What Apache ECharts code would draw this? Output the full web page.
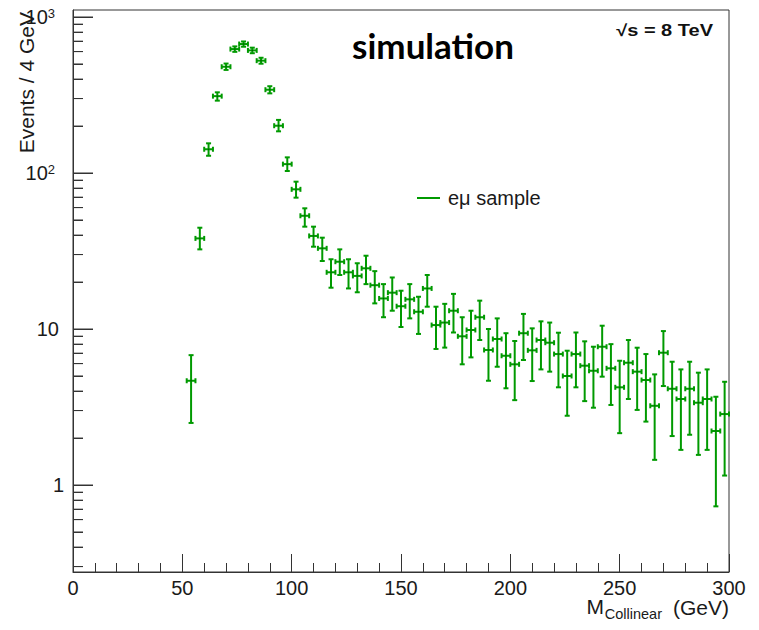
<!DOCTYPE html>
<html>
<head>
<meta charset="utf-8">
<script src="https://cdn.jsdelivr.net/npm/echarts@6/dist/echarts.min.js"></script>
<style>html,body{margin:0;padding:0;background:#fff}#c{width:759px;height:630px}</style>
</head>
<body>
<div id="c"></div>
<script>
// ---- data ----
const binCenters = [54,58,62,66,70,74,78,82,86,90,94,98,102,106,110,114,118,122,126,130,134,138,142,146,150,154,158,162,166,170,174,178,182,186,190,194,198,202,206,210,214,218,222,226,230,234,238,242,246,250,254,258,262,266,270,274,278,282,286,290,294,298];
const events = [4.66,38.1,142,311,480,623,671,611,525,342,201,114,78.6,53.2,39.5,32.9,23.1,27.0,23.1,21.9,24.5,19.1,15.7,17.1,14.0,15.5,12.9,18.2,10.6,11.0,13.1,8.98,9.86,11.9,7.34,8.63,6.74,5.94,9.4,7.3,8.5,8.17,6.91,5.0,6.91,5.82,5.4,7.7,5.6,4.23,6.08,5.33,4.71,3.22,7.05,4.14,3.56,4.14,3.37,3.56,2.22,2.85];
const errLow = [2.5,32.4,129,291,458,598,645,586,502,324,185,103,69.5,45.3,33.7,27.3,18.4,22.2,18.2,17.2,19.4,14.6,11.9,13.1,10.3,11.7,9.3,13.9,7.45,7.6,9.5,5.94,6.58,8.5,4.66,5.73,4.17,3.5,6.33,4.64,5.51,5.33,4.23,2.78,4.23,3.45,3.13,4.95,3.26,2.15,3.56,3.03,2.55,1.45,4.31,2.06,1.68,2.1,1.56,1.68,0.73,1.15];
const errHigh = [6.8,44.6,155,329,503,648,697,636,548,360,219,126,88,59.4,45.3,38.5,28,32.4,28,26.4,29.5,23.5,19.4,21.4,17.6,19.4,16.1,22.2,13.9,14.5,16.8,11.9,13.1,15.2,10,11.7,9.4,8.38,12.5,10.1,11.2,11.0,9.47,7.26,9.5,8.34,7.7,10.5,8.0,6.26,8.5,7.59,6.91,5.12,9.7,6.17,5.51,6.17,5.25,5.51,3.68,4.59];
const binHalfWidth = 2;
const xTickLabels = [0,50,100,150,200,250,300];
const yMajorTicks = [1,10,100,1000];
const yMinorTicks = [0.3,0.4,0.5,0.6,0.7,0.8,0.9,2,3,4,5,6,7,8,9,20,30,40,50,60,70,80,90,200,300,400,500,600,700,800,900];
const seriesName = 'eμ sample';

// ---- styles ----
const GREEN = '#009a00';
const AX = '#333333';
const TXT = '#1a1a1a';
const FONT = 'Liberation Sans';
const MAJOR_LEN = 20, MINOR_LEN = 10;       // px
const X_UNITS_PER_PX = 300 / 656;           // x-axis data units per pixel

const chart = echarts.init(document.getElementById('c'), null, {renderer: 'svg'});

const errData = binCenters.map((x, i) => [x, events[i], errLow[i], errHigh[i]]);
const yTickList = yMajorTicks.map(v => [v, MAJOR_LEN]).concat(yMinorTicks.map(v => [v, MINOR_LEN]));
const tickMarkLines = yTickList.map(t => [{coord: [0, t[0]]}, {coord: [t[1] * X_UNITS_PER_PX, t[0]]}]);

function line(x1, y1, x2, y2, w, c) {
  return {type: 'line', shape: {x1, y1, x2, y2}, style: {stroke: c, lineWidth: w}};
}

chart.setOption({
  animation: false,
  grid: {left: 73, top: 10, right: 30, bottom: 58, show: true, borderColor: AX, borderWidth: 1},
  xAxis: {
    type: 'value', min: 0, max: 300, interval: 50,
    axisLine: {show: true, lineStyle: {color: AX, width: 1}},
    axisTick: {show: true, inside: true, length: 18, lineStyle: {color: AX}},
    minorTick: {show: true, splitNumber: 5, length: 9, lineStyle: {color: AX}},
    splitLine: {show: false},
    axisLabel: {margin: 6, fontFamily: FONT, fontSize: 20, color: TXT,
      formatter: v => xTickLabels.includes(v) ? String(v) : ''}
  },
  yAxis: {
    type: 'log', logBase: 10, min: 0.277, max: 1109,
    axisLine: {show: true, lineStyle: {color: AX, width: 1}},
    axisTick: {show: false},
    splitLine: {show: false},
    axisLabel: {
      margin: 9, fontFamily: FONT, fontSize: 20, color: TXT,
      formatter: function (v) {
        const e = Math.log10(v);
        const r = Math.round(e);
        if (Math.abs(e - r) > 0.01) return '';
        if (r === 0) return '{a|1}';
        if (r === 1) return '{b|10}';
        return '{n|10}{s|' + r + '}';
      },
      rich: {
        a: {fontFamily: FONT, fontSize: 20, color: TXT},
        b: {fontFamily: FONT, fontSize: 20, color: TXT, padding: [0, 5, 0, 0]},
        n: {fontFamily: FONT, fontSize: 20, color: TXT},
        s: {fontFamily: FONT, fontSize: 13, color: TXT, verticalAlign: 'top', padding: [0, 9, 0, 0]}
      }
    }
  },
  legend: {
    data: [seriesName], left: 417, top: 188, padding: 0, icon: 'rect', itemWidth: 23, itemHeight: 2,
    selectedMode: false,
    textStyle: {fontFamily: FONT, fontSize: 20, color: TXT, padding: [0, 0, 0, 3]}
  },
  series: [
    {
      name: seriesName, type: 'custom', itemStyle: {color: GREEN},
      data: errData, encode: {x: 0, y: 1},
      markLine: {
        silent: true, animation: false, symbol: ['none', 'none'],
        label: {show: false},
        lineStyle: {color: AX, width: 1, type: 'solid'},
        emphasis: {disabled: true},
        data: tickMarkLines
      },
      renderItem: function (params, api) {
        const x = api.value(0), y = api.value(1), lo = api.value(2), hi = api.value(3);
        const c = api.coord([x, y]);
        const pl = api.coord([x - binHalfWidth, y]);
        const pr = api.coord([x + binHalfWidth, y]);
        const pLo = api.coord([x, lo]);
        const pHi = api.coord([x, hi]);
        const cap = 2.5;
        const children = [
          line(c[0], pHi[1], c[0], pLo[1], 2, GREEN),
          line(pl[0], c[1], pr[0], c[1], 2, GREEN),
          line(c[0] - cap, pHi[1], c[0] + cap, pHi[1], 2, GREEN),
          line(c[0] - cap, pLo[1], c[0] + cap, pLo[1], 2, GREEN),
          line(pl[0], c[1] - cap, pl[0], c[1] + cap, 2, GREEN),
          line(pr[0], c[1] - cap, pr[0], c[1] + cap, 2, GREEN),
          {type: 'rect', shape: {x: c[0] - 0.5, y: c[1] - 0.5, width: 1, height: 1}, style: {fill: '#0b3d0b'}}
        ];
        if (params.dataIndex === 0) {
          yTickList.forEach(function (t) {
            const p = api.coord([0, t[0]]);
            children.push(line(p[0], p[1], p[0] + t[1], p[1], 1, AX));
          });
        }
        return {type: 'group', children: children};
      }
    }
  ],
  graphic: [
    {type: 'text', x: 26, y: 12, rotation: Math.PI / 2,
      style: {text: 'Events / 4 GeV', font: '21px "' + FONT + '"', fill: TXT, align: 'right', verticalAlign: 'middle'}},
    {type: 'text', x: 729, y: 607,
      style: {text: '(GeV)', font: '21px "' + FONT + '"', fill: TXT, align: 'right', verticalAlign: 'middle'}},
    {type: 'text', x: 662, y: 614,
      style: {text: 'Collinear', font: '14.5px "' + FONT + '"', fill: TXT, align: 'right', verticalAlign: 'middle'}},
    {type: 'text', x: 604, y: 606,
      style: {text: 'M', font: '21px "' + FONT + '"', fill: TXT, align: 'right', verticalAlign: 'middle'}},
    {type: 'text', x: 433, y: 45,
      style: {text: 'simulation', font: 'bold 35px Lato', fill: '#000', align: 'center', verticalAlign: 'middle'}},
    {type: 'text', x: 713, y: 31, scaleX: 1.25,
      style: {text: '√s = 8 TeV', font: 'bold 16px "' + FONT + '"', fill: '#111', align: 'right', verticalAlign: 'middle'}}
  ]
});
</script>
</body>
</html>
